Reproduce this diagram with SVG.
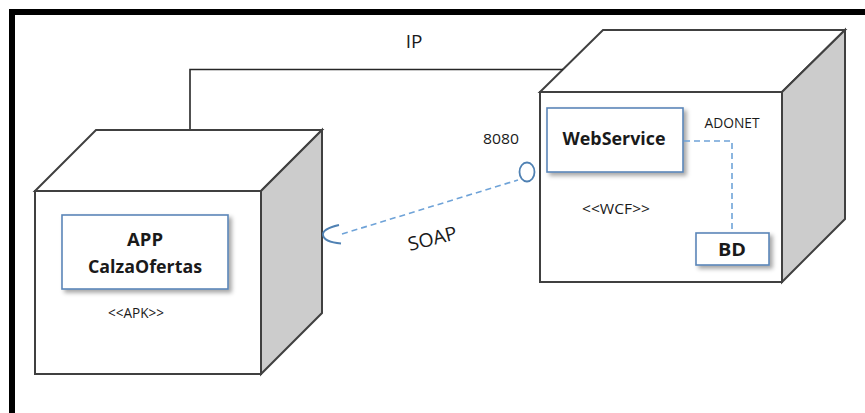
<svg xmlns="http://www.w3.org/2000/svg" width="865" height="413" viewBox="0 0 865 413">
  <defs>
    <filter id="shadow" x="-10%" y="-10%" width="125%" height="140%">
      <feDropShadow dx="3" dy="3" stdDeviation="2" flood-color="#000" flood-opacity="0.35"/>
    </filter>
    <style>
      .frame { fill: #000; }
      .face { fill: #fff; stroke: #404040; stroke-width: 2; stroke-linejoin: miter; }
      .side { fill: #cccccc; stroke: #404040; stroke-width: 2; stroke-linejoin: miter; }
      .comp { fill: #fff; stroke: #5a86b8; stroke-width: 1.6; filter: url(#shadow); }
      .link { fill: none; stroke: #262626; stroke-width: 1.6; }
      .dash { fill: none; stroke: #6fa3d8; stroke-width: 1.6; stroke-dasharray: 6 4; }
      .iface { fill: #fff; stroke: #4f81b3; stroke-width: 1.8; }
      .socket { fill: none; stroke: #4f81b3; stroke-width: 1.8; }
      .lbl { font-family: "Open Sans", "Liberation Sans", sans-serif; fill: #1a1a1a; text-anchor: middle; }
      .name { font-family: "Open Sans", "Liberation Sans", sans-serif; font-weight: bold; fill: #1a1a1a; text-anchor: middle; font-size: 18px; }
    </style>
  </defs>

  <!-- outer frame: top and left bars -->
  <rect class="frame" x="9" y="9" width="856" height="6"/>
  <rect class="frame" x="9" y="9" width="6" height="404"/>

  <!-- client device -->
  <g id="device-app">
    <polygon class="face" points="35,191 96,130 322,130 261,191"/>
    <polygon class="side" points="261,191 322,130 322,313 261,374"/>
    <rect class="face" x="35" y="191" width="226" height="183"/>
    <g id="app">
      <rect class="comp" x="62" y="215" width="166" height="74"/>
      <text class="name" x="145" y="246" textLength="36" lengthAdjust="spacingAndGlyphs">APP</text>
      <text class="name" x="145" y="273" textLength="114" lengthAdjust="spacingAndGlyphs">CalzaOfertas</text>
    </g>
    <text class="lbl" x="136" y="318" font-size="14" textLength="56" lengthAdjust="spacingAndGlyphs">&lt;&lt;APK&gt;&gt;</text>
  </g>

  <!-- server device -->
  <g id="device-server">
    <polygon class="face" points="540,92 603,30 845,30 782,92"/>
    <polygon class="side" points="782,92 845,30 845,219 782,282"/>
    <rect class="face" x="540" y="92" width="242" height="190"/>
    <g id="webservice">
      <rect class="comp" x="547" y="108" width="136" height="64"/>
      <text class="name" x="614" y="145" textLength="103" lengthAdjust="spacingAndGlyphs">WebService</text>
    </g>
    <g id="bd">
      <rect class="comp" x="696" y="233" width="73" height="32"/>
      <text class="name" x="732" y="256" textLength="28" lengthAdjust="spacingAndGlyphs">BD</text>
    </g>
    <text class="lbl" x="616" y="214" font-size="14" textLength="68" lengthAdjust="spacingAndGlyphs">&lt;&lt;WCF&gt;&gt;</text>
  </g>

  <!-- connectors -->
  <g id="connectors">
    <!-- IP network link between the two devices -->
    <path class="link" d="M190,129 V69.5 H563"/>
    <text class="lbl" x="414" y="48" font-size="19">IP</text>
    <!-- SOAP dependency from the app socket to the service interface -->
    <path class="dash" d="M342,234 L518,180"/>
    <path class="socket" d="M339,225 Q322,229 323,235 Q324,242 341,243.5"/>
    <ellipse class="iface" cx="527" cy="172" rx="7.5" ry="9.5"/>
    <text class="lbl" x="501" y="144" font-size="14" textLength="36" lengthAdjust="spacingAndGlyphs">8080</text>
    <text class="lbl" transform="translate(434,245) rotate(-14)" font-size="19" textLength="50" lengthAdjust="spacingAndGlyphs">SOAP</text>
    <!-- ADO.NET link from the service to the database -->
    <path class="dash" d="M684,141 H732 V232"/>
    <text class="lbl" x="732" y="128" font-size="14" textLength="55" lengthAdjust="spacingAndGlyphs">ADONET</text>
  </g>
</svg>
